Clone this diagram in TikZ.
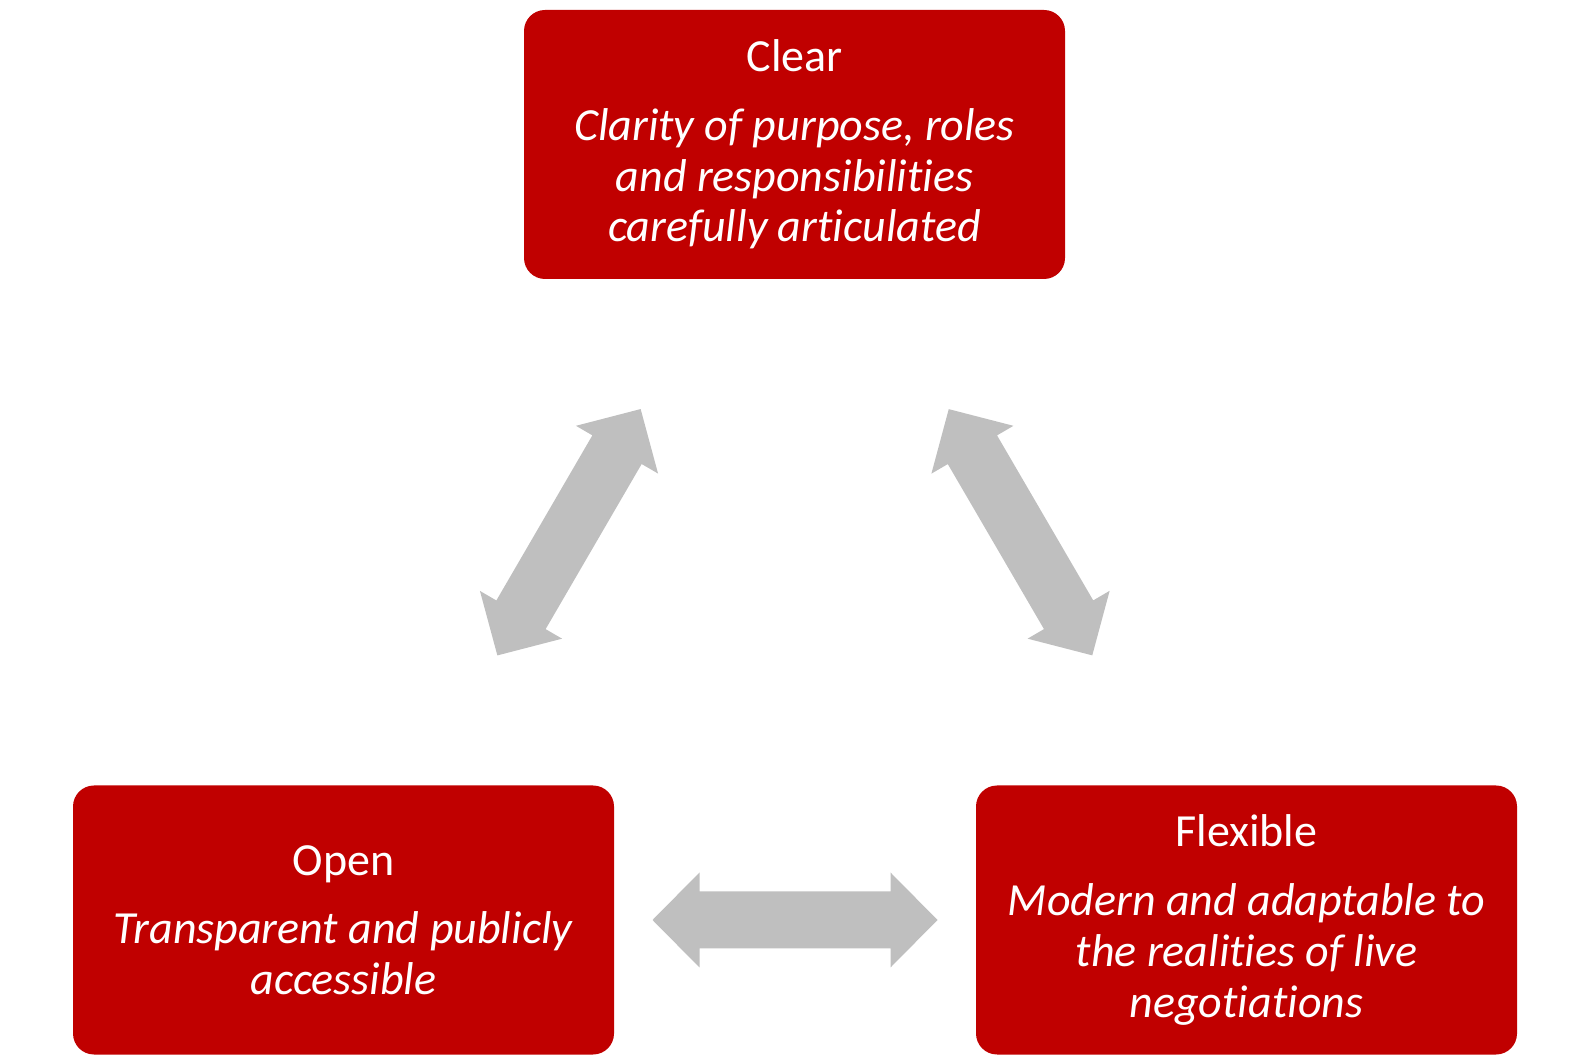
\documentclass[tikz,border=0pt]{standalone}
\usepackage{fontspec}
\setmainfont{Carlito}[Ligatures=NoCommon]
\usetikzlibrary{positioning}
\definecolor{boxred}{HTML}{C00000}
\definecolor{arrowgray}{HTML}{BFBFBF}

\tikzset{
  redbox/.style={rectangle, rounded corners=10.5pt, fill=boxred, text=white,
    minimum width=270.5pt, minimum height=134.5pt, align=center,
    font=\fontsize{23}{25.35}\selectfont},
  twoway/.pic={
    \fill[arrowgray] (-142.5,0) -- (-95.5,47.5) -- (-95.5,28.5) -- (95.5,28.5)
      -- (95.5,47.5) -- (142.5,0) -- (95.5,-47.5) -- (95.5,-28.5)
      -- (-95.5,-28.5) -- (-95.5,-47.5) -- cycle;
  }
}

\begin{document}
\begin{tikzpicture}[x=0.5pt,y=0.5pt]
\useasboundingbox (0,0) rectangle (1588,1059);
\node [redbox] (clear) at (794.5,914.5) {Clear\\[9pt]\textit{Clarity of purpose, roles}\\\textit{and responsibilities}\\\textit{carefully articulated}};
\node [redbox] (open) at (343.5,139) {Open\\[9pt]\textit{Transparent and publicly}\\\textit{accessible}};
\node [redbox] (flexible) at (1246.5,139) {Flexible\\[9pt]\textit{Modern and adaptable to}\\\textit{the realities of live}\\\textit{negotiations}};
\path (clear.center) -- (open.center) pic [pos=0.5, sloped] {twoway};
\path (clear.center) -- (flexible.center) pic [pos=0.5, sloped] {twoway};
\path (open.center) -- (flexible.center) pic [pos=0.5, sloped] {twoway};
\end{tikzpicture}
\end{document}
